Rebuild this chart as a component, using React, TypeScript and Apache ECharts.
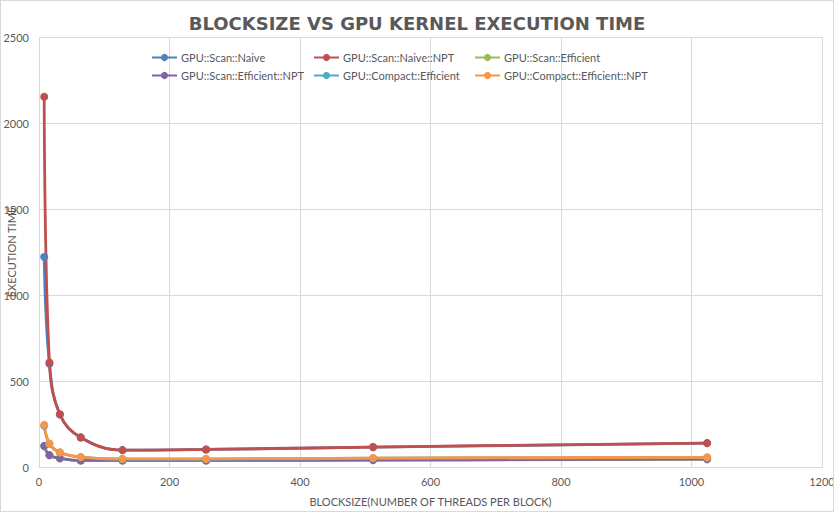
import React, { useEffect, useRef } from "react";
import * as echarts from "echarts";

const blockSizes = [8, 16, 32, 64, 128, 256, 512, 1024];
const scanNaive = [1221, 600, 305, 172, 98, 102, 115, 139];
const scanNaiveNpt = [2153, 608, 307, 172, 98, 102, 116, 139];
const scanEfficient = [120, 68, 50, 37, 37, 38, 40, 45];
const scanEfficientNpt = [123, 69, 51, 38, 38, 38, 40, 46];
const compactEfficient = [240, 135, 84, 57, 46, 46, 51, 55];
const compactEfficientNpt = [245, 137, 85, 58, 47, 47, 52, 56];

const seriesNames = [
  "GPU::Scan::Naive",
  "GPU::Scan::Naive::NPT",
  "GPU::Scan::Efficient",
  "GPU::Scan::Efficient::NPT",
  "GPU::Compact::Efficient",
  "GPU::Compact::Efficient::NPT",
];
const seriesValues = [scanNaive, scanNaiveNpt, scanEfficient, scanEfficientNpt, compactEfficient, compactEfficientNpt];
const colors = ["#4F81BD", "#C0504D", "#9BBB59", "#8064A2", "#4BACC6", "#F79646"];

const FONT = "Lato, sans-serif";

export default function App() {
  const ref = useRef<HTMLDivElement>(null);
  useEffect(() => {
    if (!ref.current) return;
    const chart = echarts.init(ref.current, undefined, { renderer: "svg" });
    const legendCols = [
      { left: 150, data: [seriesNames[0], seriesNames[3]] },
      { left: 312, data: [seriesNames[1], seriesNames[4]] },
      { left: 473, data: [seriesNames[2], seriesNames[5]] },
    ];
    chart.setOption({
      animation: false,
      backgroundColor: "#ffffff",
      color: colors,
      title: {
        text: "BLOCKSIZE VS GPU KERNEL EXECUTION TIME",
        left: "center",
        top: 8,
        textStyle: { fontFamily: "'DejaVu Sans', sans-serif", fontWeight: "bold", fontSize: 18, color: "#595959" },
      },
      legend: legendCols.map((c) => ({
        left: c.left,
        top: 51,
        padding: 0,
        orient: "vertical",
        itemGap: 7,
        itemWidth: 25,
        itemHeight: 9,
        data: c.data,
        textStyle: { fontFamily: FONT, fontSize: 11, color: "#595959", padding: [0, 0, 0, -1] },
      })),
      grid: { left: 38, right: 11, top: 36, bottom: 44, outerBoundsMode: "none", containLabel: false },
      xAxis: {
        type: "value",
        min: 0,
        max: 1200,
        interval: 200,
        name: "BLOCKSIZE(NUMBER OF THREADS PER BLOCK)",
        nameLocation: "middle",
        nameGap: 29,
        nameMoveOverlap: false,
        nameTextStyle: { fontFamily: FONT, fontSize: 11, color: "#595959" },
        axisLine: { show: true, lineStyle: { color: "#d9d9d9" } },
        axisTick: { show: false },
        axisLabel: { fontFamily: FONT, fontSize: 11, color: "#595959", margin: 9, formatter: (v: number) => String(v) },
        splitLine: { show: true, lineStyle: { color: "#d9d9d9" } },
      },
      yAxis: {
        type: "value",
        min: 0,
        max: 2500,
        interval: 500,
        name: "EXECUTION TIME",
        nameLocation: "middle",
        nameGap: 22,
        nameMoveOverlap: false,
        nameTextStyle: { fontFamily: FONT, fontSize: 11, color: "#595959" },
        axisLine: { show: false },
        axisTick: { show: false },
        axisLabel: { fontFamily: FONT, fontSize: 11, color: "#595959", margin: 10, formatter: (v: number) => String(v) },
        splitLine: { show: true, lineStyle: { color: "#d9d9d9" } },
      },
      series: seriesNames.map((name, i) => ({
        name,
        type: "line",
        smooth: 0.4,
        symbol: "circle",
        symbolSize: 8,
        lineStyle: { width: 2.8, color: colors[i] },
        itemStyle: { color: colors[i] },
        data: blockSizes.map((x, j) => [x, seriesValues[i][j]]),
      })),
    });
    return () => chart.dispose();
  }, []);
  return (
    <div
      style={{
        position: "fixed",
        left: 0,
        top: 0,
        width: 834,
        height: 512,
        boxSizing: "border-box",
        border: "1px solid #d9d9d9",
        background: "#fff",
      }}
    >
      <div ref={ref} style={{ width: 832, height: 510 }} />
    </div>
  );
}
